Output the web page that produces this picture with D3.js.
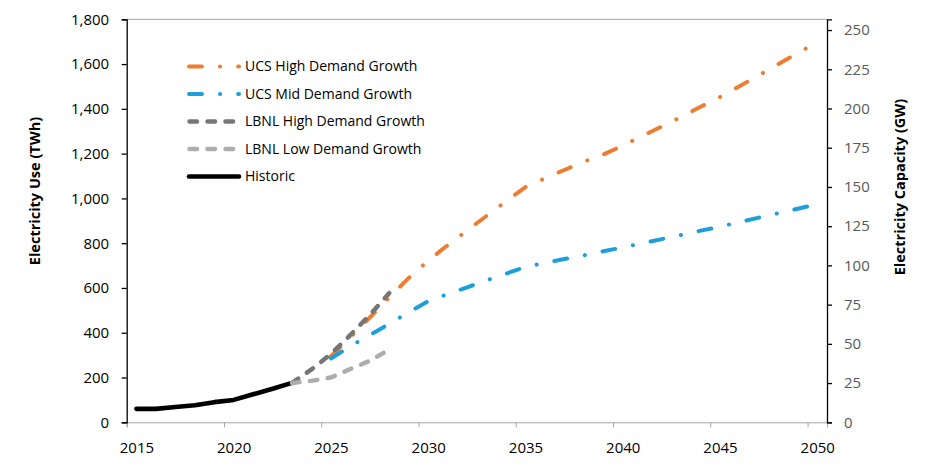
<!DOCTYPE html>
<html>
<head>
<meta charset="utf-8">
<script src="https://cdn.jsdelivr.net/npm/d3@7"></script>
<style>
  body { margin: 0; background: #fff; }
  svg text { font-family: "Open Sans", Lato, sans-serif; }
</style>
</head>
<body>
<div id="chart"></div>
<script>
// year categories
var histYears = [2015, 2016, 2017, 2018, 2019, 2020, 2021, 2022, 2023];
var lbnlYears = [2023, 2024, 2025, 2026, 2027, 2028];
var ucsYears = [2025, 2026, 2027, 2028, 2029, 2030, 2031, 2032, 2033, 2034, 2035, 2036, 2037,
  2038, 2039, 2040, 2041, 2042, 2043, 2044, 2045, 2046, 2047, 2048, 2049, 2050];

// TWh
var historic = [60, 60, 68, 76, 90, 100, 125, 150, 176];
var lbnlHigh = [176, 236, 305, 390, 480, 577];
var lbnlLow = [176, 185, 200, 238, 275, 325];
var ucsHigh = [295, 380, 468, 558, 645, 722, 791, 857, 922, 987, 1050, 1090, 1127,
  1164, 1196, 1236, 1279, 1321, 1364, 1409, 1453, 1501, 1550, 1600, 1649, 1698];
var ucsMid = [285, 340, 390, 440, 492, 541, 573, 603, 634, 664, 694, 712, 729,
  746, 764, 781, 800, 818, 837, 856, 874, 894, 914, 934, 954, 975];

// axis ticks
var xTickLabels = [2015, 2020, 2025, 2030, 2035, 2040, 2045, 2050];
var leftTicks = [0, 200, 400, 600, 800, 1000, 1200, 1400, 1600, 1800];
var rightTicks = [0, 25, 50, 75, 100, 125, 150, 175, 200, 225, 250];

var seriesNames = ["UCS High Demand Growth", "UCS Mid Demand Growth", "LBNL High Demand Growth",
  "LBNL Low Demand Growth", "Historic"];

var W = 936, H = 474;
var margin = {top: 19.3, right: 109, bottom: 51.7, left: 126.7};

var svg = d3.select("#chart").append("svg")
  .attr("width", W)
  .attr("height", H);

// category axis: each year is a band, points sit in the middle
var x = d3.scaleLinear()
  .domain([2014.5, 2050.5])
  .range([margin.left, W - margin.right]);

var y = d3.scaleLinear()
  .domain([0, 1800])
  .range([H - margin.bottom, margin.top]);

// 1800 TWh at 80% capacity factor -> GW
var yR = d3.scaleLinear()
  .domain([0, 1800 / 8.76 / 0.8])
  .range([H - margin.bottom, margin.top]);

// plot area top border
svg.append("line")
  .attr("x1", margin.left).attr("x2", W - margin.right)
  .attr("y1", margin.top).attr("y2", margin.top)
  .attr("stroke", "#a6a6a6").attr("stroke-width", 1);

// x axis: tick marks on band edges, labels in band centres
var xTicks = svg.append("g")
  .attr("transform", "translate(0," + (H - margin.bottom) + ")")
  .call(d3.axisBottom(x)
    .tickValues(xTickLabels.map(function (d) { return d - 0.5; }))
    .tickSize(5)
    .tickFormat(""));
xTicks.selectAll("path, line").attr("stroke", "#a6a6a6");

var xLabels = svg.append("g")
  .attr("transform", "translate(0," + (H - margin.bottom) + ")")
  .call(d3.axisBottom(x).tickValues(xTickLabels).tickSize(0).tickFormat(d3.format("d")));
xLabels.select(".domain").remove();
xLabels.selectAll("text")
  .attr("y", 31).attr("dy", 0)
  .attr("font-size", 15).attr("fill", "#000");

// left axis
var yAxis = svg.append("g")
  .attr("transform", "translate(" + margin.left + ",0)")
  .call(d3.axisLeft(y).tickValues(leftTicks).tickSize(5).tickPadding(12.5)
    .tickFormat(d3.format(",")));
yAxis.selectAll("path, line").attr("stroke", "#000").attr("stroke-width", 1.3);
yAxis.selectAll("text").attr("font-size", 15).attr("fill", "#000");

// right axis
var yAxisR = svg.append("g")
  .attr("transform", "translate(" + (W - margin.right) + ",0)")
  .call(d3.axisRight(yR).tickValues(rightTicks).tickSize(5).tickPadding(12));
yAxisR.selectAll("path, line").attr("stroke", "#000").attr("stroke-width", 1.3);
yAxisR.selectAll("text").attr("font-size", 15).attr("fill", "#595959");

// axis titles
svg.append("text")
  .attr("transform", "translate(40,191) rotate(-90)")
  .attr("text-anchor", "middle")
  .attr("font-size", 14.5).attr("font-weight", "bold")
  .text("Electricity Use (TWh)");

svg.append("text")
  .attr("transform", "translate(905,187) rotate(-90)")
  .attr("text-anchor", "middle")
  .attr("font-size", 14.5).attr("font-weight", "bold")
  .text("Electricity Capacity (GW)");

var dashDot = "13,18,0.1,18";
var dashed = "7.5,10.5";

var series = [
  {name: seriesNames[4], years: histYears, values: historic, color: "#000", width: 4.6, dash: null},
  {name: seriesNames[0], years: ucsYears, values: ucsHigh, color: "#ED7D31", width: 4, dash: dashDot},
  {name: seriesNames[1], years: ucsYears, values: ucsMid, color: "#1D9FDB", width: 4, dash: dashDot},
  {name: seriesNames[2], years: lbnlYears, values: lbnlHigh, color: "#767676", width: 4.5, dash: dashed},
  {name: seriesNames[3], years: lbnlYears, values: lbnlLow, color: "#ADADAD", width: 4.5, dash: dashed}
];

var line = d3.line()
  .x(function (d) { return x(d[0]); })
  .y(function (d) { return y(d[1]); });

series.forEach(function (s) {
  svg.append("path")
    .datum(s.years.map(function (yr, i) { return [yr, s.values[i]]; }))
    .attr("d", line)
    .attr("fill", "none")
    .attr("stroke", s.color)
    .attr("stroke-width", s.width)
    .attr("stroke-linecap", "round")
    .attr("stroke-linejoin", "round")
    .attr("stroke-dasharray", s.dash);
});

// legend, in the order of the original
var legendOrder = [1, 2, 3, 4, 0];
var legend = svg.append("g");
legendOrder.forEach(function (k, i) {
  var s = series[k];
  var ly = 66.5 + i * 27.5;
  legend.append("line")
    .attr("x1", s.dash === dashed ? 189.5 : 189)
    .attr("x2", s.dash === dashed ? 233 : 239)
    .attr("y1", ly).attr("y2", ly)
    .attr("stroke", s.color)
    .attr("stroke-width", s.width)
    .attr("stroke-linecap", "round")
    .attr("stroke-dasharray", s.dash);
  legend.append("text")
    .attr("x", 245).attr("y", ly)
    .attr("dy", "0.35em")
    .attr("font-size", 14)
    .attr("fill", "#000")
    .text(s.name);
});
</script>
</body>
</html>
